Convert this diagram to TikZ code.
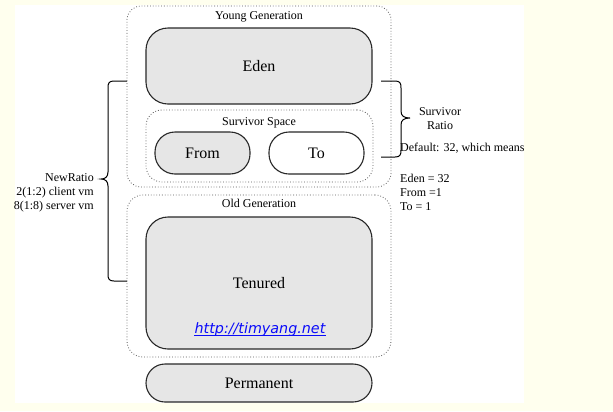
\documentclass[tikz,border=0pt]{standalone}
\usepackage{fontspec}
\setmainfont{Liberation Serif}
\newfontfamily\linkfont{DejaVu Sans}
\definecolor{cream}{RGB}{255,255,238}
\definecolor{boxgray}{RGB}{230,230,230}
\definecolor{edgegray}{RGB}{40,40,40}
\definecolor{dotgray}{RGB}{90,90,90}
\definecolor{linkblue}{RGB}{10,10,250}
\begin{document}
\begin{tikzpicture}[x=1bp,y=-1bp,
  bigtxt/.style={font=\fontsize{16bp}{19bp}\selectfont},
  smalltxt/.style={font=\fontsize{12bp}{14bp}\selectfont, inner sep=0pt},
  membox/.style={draw=edgegray, line width=1.1bp, fill=boxgray, bigtxt},
  genbox/.style={draw=dotgray, dotted, line width=0.8bp},
  bracepath/.style={draw=black, line width=1bp}]
\useasboundingbox (0,0) rectangle (613,411);
\fill[cream] (0,0) rectangle (613,411);
\fill[white] (15,5) rectangle (524,403);

% generation frames
\node[genbox, rounded corners=14bp, minimum width=264bp, minimum height=181bp] (young) at (259,96.5) {};
\node[smalltxt] (younglbl) at (259,17) {Young Generation};
\node[genbox, rounded corners=16bp, minimum width=227bp, minimum height=72bp] (surv) at (259.5,146) {};
\node[smalltxt] (survlbl) at (259,123) {Survivor Space};
\node[genbox, rounded corners=16bp, minimum width=264bp, minimum height=162bp] (old) at (259,276) {};
\node[smalltxt] (oldlbl) at (259,203) {Old Generation};

% memory boxes
\node[membox, rounded corners=22bp, minimum width=226bp, minimum height=76bp] (eden) at (259,66) {Eden};
\node[membox, rounded corners=20bp, minimum width=95bp, minimum height=42bp] (from) at (202.5,153) {From};
\node[membox, fill=white, rounded corners=20bp, minimum width=95bp, minimum height=42bp] (to) at (316.5,153) {To};
\node[membox, rounded corners=22bp, minimum width=226bp, minimum height=132bp] (tenured) at (259,283) {Tenured};
\node[font=\linkfont\itshape\fontsize{14.3bp}{16bp}\selectfont, text=linkblue, inner sep=0pt] (link) at (260,330) {http://timyang.net};
\draw[linkblue, line width=0.9bp] ([yshift=-1.8bp]link.base west) -- ([yshift=-1.8bp]link.base east);
\node[membox, rounded corners=19bp, minimum width=226bp, minimum height=38bp] (perm) at (259,383) {Permanent};

% braces
\draw[bracepath] (127,81) -- (114,81) .. controls (109,81) and (108,83) .. (108,88) -- (108,172)
  .. controls (108,177) and (105,179) .. (101,179) .. controls (105,179) and (108,181) .. (108,186)
  -- (108,274) .. controls (108,279) and (109,281) .. (114,281) -- (127,281);
\draw[bracepath] (381,81) -- (395,81) .. controls (400,81) and (401,83) .. (401,88) -- (401,111)
  .. controls (401,116) and (404,118) .. (410,118) .. controls (404,118) and (401,120) .. (401,125)
  -- (401,150) .. controls (401,155) and (400,157) .. (395,157) -- (381,157);

% annotations
\node[smalltxt, align=right, anchor=east] (newratio) at (94,193) {NewRatio\\2(1:2) client vm\\8(1:8) server vm};
\node[smalltxt, align=center] (survratio) at (440,119) {Survivor\\Ratio};
\node[smalltxt, anchor=west] (default) at (400,148) {Default: 32, which means};
\node[smalltxt, align=left, anchor=west] (ratios) at (400,192) {Eden = 32\\From =1\\To = 1};
\end{tikzpicture}
\end{document}
